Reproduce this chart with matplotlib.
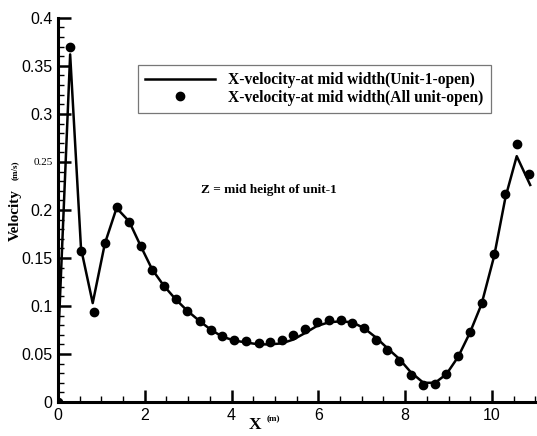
import matplotlib.pyplot as plt
from matplotlib.ticker import MultipleLocator

# data
x_pts = [0.0, 0.28, 0.53, 0.82, 1.08, 1.35, 1.64, 1.91, 2.17, 2.44, 2.71,
         2.98, 3.27, 3.53, 3.79, 4.06, 4.33, 4.62, 4.88, 5.15, 5.42, 5.70,
         5.96, 6.24, 6.51, 6.78, 7.05, 7.33, 7.59, 7.86, 8.13, 8.42, 8.69,
         8.95, 9.22, 9.49, 9.76, 10.05, 10.31, 10.57, 10.86]
v_all = [0.0, 0.370, 0.157, 0.094, 0.166, 0.203, 0.187, 0.162, 0.137, 0.121, 0.107,
         0.095, 0.084, 0.075, 0.069, 0.065, 0.063, 0.061, 0.062, 0.065, 0.070, 0.076,
         0.083, 0.085, 0.085, 0.082, 0.077, 0.065, 0.054, 0.043, 0.028, 0.018, 0.019,
         0.029, 0.048, 0.073, 0.103, 0.154, 0.217, 0.269, 0.237]

x_line = [0.0, 0.02, 0.28, 0.53, 0.80, 1.08, 1.35, 1.64, 1.91, 2.17, 2.44, 2.71,
          2.98, 3.27, 3.53, 3.79, 4.06, 4.33, 4.62, 4.88, 5.15, 5.42, 5.70,
          5.96, 6.24, 6.51, 6.78, 7.05, 7.33, 7.59, 7.86, 8.13, 8.42, 8.69,
          8.95, 9.22, 9.49, 9.76, 10.05, 10.31, 10.57, 10.88]
v_unit1 = [0.0, 0.080, 0.362, 0.160, 0.103, 0.165, 0.202, 0.188, 0.162, 0.138, 0.121, 0.107,
           0.095, 0.084, 0.075, 0.068, 0.064, 0.062, 0.060, 0.060, 0.061, 0.065, 0.072,
           0.079, 0.083, 0.084, 0.083, 0.077, 0.067, 0.056, 0.045, 0.031, 0.020, 0.020,
           0.029, 0.047, 0.072, 0.102, 0.152, 0.213, 0.256, 0.226]

fig = plt.figure(figsize=(5.37, 4.36), dpi=100)
ax = fig.add_axes([0.108, 0.078, 0.889, 0.881])

ax.plot(x_line, v_unit1, color='black', lw=1.8,
        label='X-velocity-at mid width(Unit-1-open)')
ax.plot(x_pts, v_all, 'o', color='black', ms=6, ls='none',
        label='X-velocity-at mid width(All unit-open)')

ax.set_xlim(0, 11)
ax.set_ylim(0, 0.4)
for s in ['top', 'right']:
    ax.spines[s].set_visible(False)
for s in ['left', 'bottom']:
    ax.spines[s].set_linewidth(2.2)

ax.xaxis.set_major_locator(MultipleLocator(2))
ax.xaxis.set_minor_locator(MultipleLocator(0.5))
ax.yaxis.set_major_locator(MultipleLocator(0.05))
ax.yaxis.set_minor_locator(MultipleLocator(0.01))
ax.tick_params(which='major', direction='in', length=9, width=1.8,
               labelsize=11.5, pad=4)
ax.tick_params(which='minor', direction='in', length=4, width=1.0)
ax.set_yticks([0, 0.05, 0.1, 0.15, 0.2, 0.25, 0.3, 0.35, 0.4])
ax.set_yticklabels(['0', '0.05', '0.1', '0.15', '0.2', '0.25', '0.3', '0.35', '0.4'])
ax.set_xticks([0, 2, 4, 6, 8, 10])
ax.set_xticklabels(['0', '2', '4', '6', '8', '10'])
for lab in ax.get_xticklabels() + ax.get_yticklabels():
    lab.set_fontfamily('Liberation Sans')
ax.get_yticklabels()[5].set_fontsize(8)
ax.get_yticklabels()[5].set_fontfamily('Liberation Serif')

leg = ax.legend(loc='upper left', bbox_to_anchor=(0.168, 0.877), frameon=True,
                fancybox=False, edgecolor='#555555', handlelength=4.5,
                borderpad=0.45, labelspacing=0.1, handletextpad=0.85,
                borderaxespad=0,
                prop={'family': 'Liberation Serif', 'weight': 'bold', 'size': 11.2})
leg.get_frame().set_linewidth(0.9)

ax.text(0.300, 0.545, 'Z = mid height of unit-1', transform=ax.transAxes,
        fontfamily='Liberation Serif', fontweight='bold', fontsize=9.5)

fig.text(0.028, 0.507, 'Velocity', rotation=90, ha='center', va='center',
         fontfamily='Liberation Serif', fontweight='bold', fontsize=11)
fig.text(0.028, 0.61, '(m/s)', rotation=90, ha='center', va='center',
         fontfamily='Liberation Serif', fontweight='bold', fontsize=6.5)
fig.text(0.475, 0.025, 'X', ha='center', va='center',
         fontfamily='Liberation Serif', fontweight='bold', fontsize=12.5)
fig.text(0.51, 0.038, '(m)', ha='center', va='center',
         fontfamily='Liberation Serif', fontweight='bold', fontsize=6.5)

fig.savefig('out.png', dpi=100)
